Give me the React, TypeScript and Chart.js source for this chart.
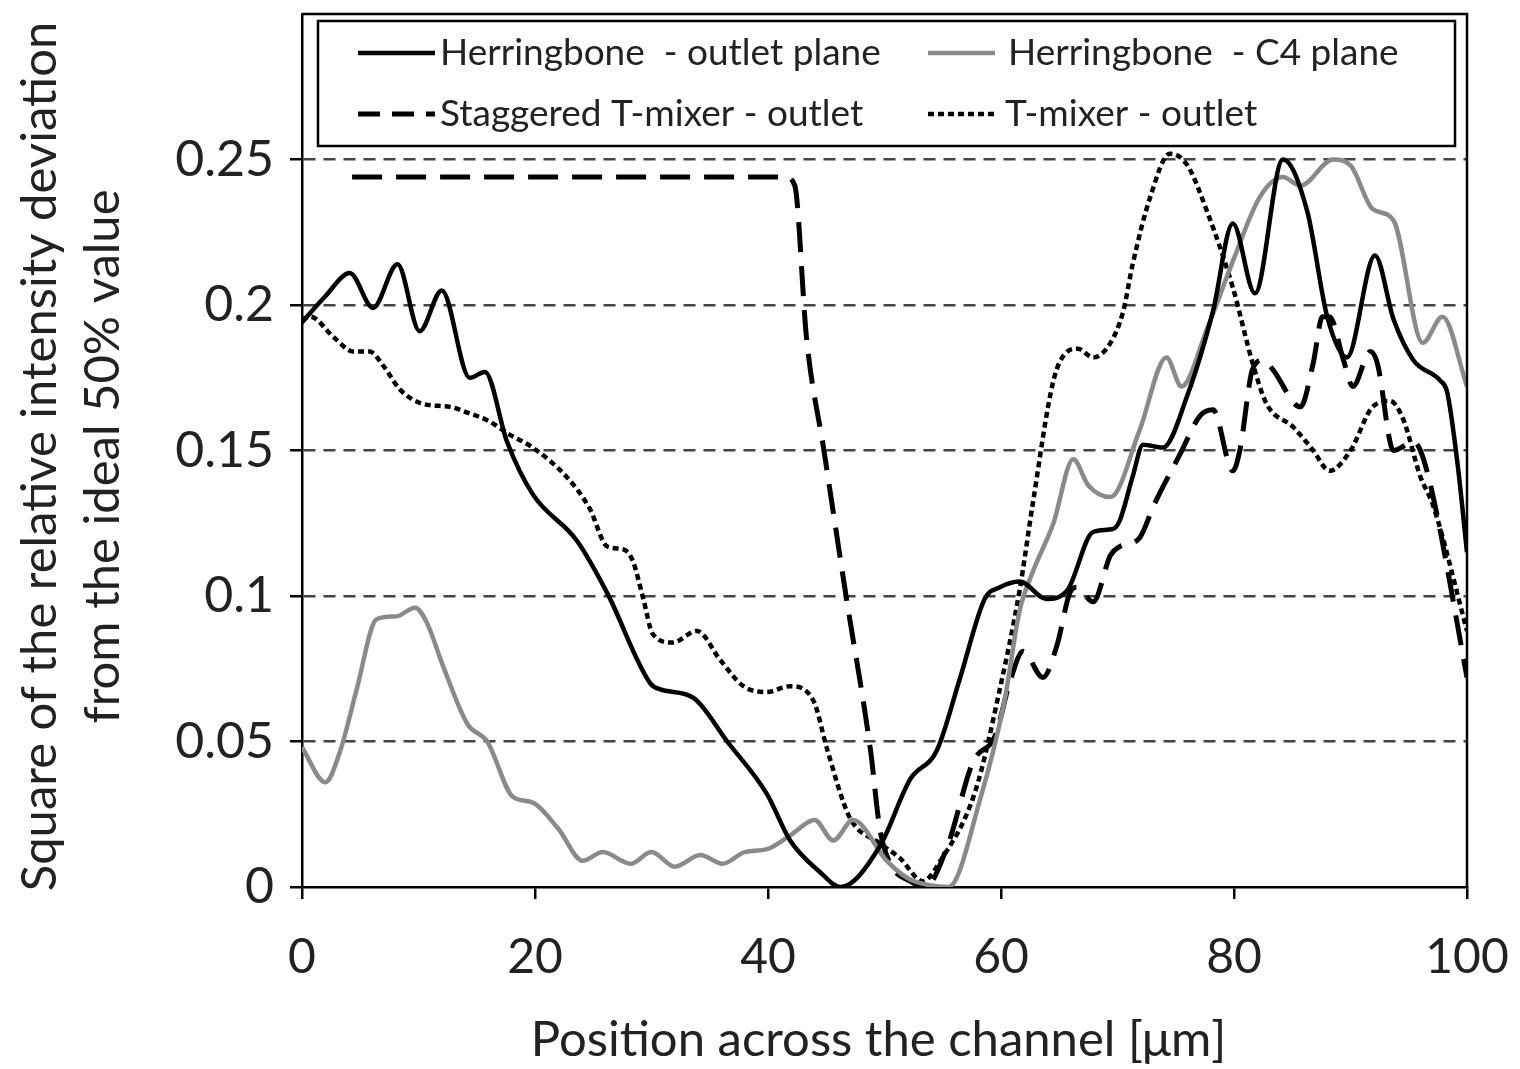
import React, { useEffect, useRef } from "react";
import { Chart, registerables } from "chart.js";

Chart.register(...registerables);

// ---------- data ----------
const xTickValues = [0, 20, 40, 60, 80, 100];
const yTickValues = [0, 0.05, 0.1, 0.15, 0.2, 0.25];
const yTickLabels = ["0", "0.05", "0.1", "0.15", "0.2", "0.25"];

const seriesNames = [
  "Herringbone  - outlet plane",
  "Herringbone  - C4 plane",
  "Staggered T-mixer - outlet",
  "T-mixer - outlet",
];

const hoX = [0, 2, 4.1, 6.1, 8.2, 10.1, 12.0, 14.4, 15.7, 17.6, 19.8, 23.6, 26.2, 29.9, 30.7, 33.6, 36.5, 39.9, 41.9, 44.5, 46.2, 49.6, 52.2, 54.5, 56.5, 58.6, 59.9, 61.6, 63.9, 65.7, 67.9, 69.6, 70.2, 71.3, 72.2, 73.9, 76, 78.2, 79.9, 81.8, 84.2, 86.3, 88.0, 89.7, 92.1, 93.7, 95.4, 97.7, 98.3, 99.2, 100];
const hoY = [0.194, 0.203, 0.211, 0.199, 0.214, 0.191, 0.205, 0.175, 0.177, 0.153, 0.135, 0.119, 0.101, 0.070, 0.068, 0.065, 0.050, 0.032, 0.016, 0.005, 0.0, 0.014, 0.037, 0.047, 0.072, 0.099, 0.103, 0.105, 0.099, 0.102, 0.122, 0.123, 0.126, 0.141, 0.152, 0.151, 0.169, 0.198, 0.228, 0.204, 0.250, 0.232, 0.196, 0.182, 0.217, 0.195, 0.181, 0.174, 0.170, 0.145, 0.115];

const c4X = [0, 2.0, 3.3, 4.7, 6.4, 8.1, 9.7, 10.7, 12.1, 14.2, 15.9, 18.1, 19.8, 22, 24.1, 25.8, 28.2, 30.0, 32.0, 34.2, 36.1, 38, 39.9, 42.0, 44.0, 45.6, 47.3, 50.2, 52, 54, 55.5, 58.2, 60.3, 61.6, 62.7, 64.5, 66.2, 67.5, 69.4, 71.9, 74.2, 75.5, 77.7, 79.9, 82.2, 84.2, 85.7, 88.5, 90, 91.9, 93.7, 96.2, 97.9, 100];
const c4Y = [0.048, 0.036, 0.047, 0.068, 0.092, 0.093, 0.096, 0.091, 0.076, 0.056, 0.050, 0.031, 0.029, 0.020, 0.009, 0.012, 0.008, 0.012, 0.007, 0.011, 0.008, 0.012, 0.013, 0.018, 0.023, 0.016, 0.023, 0.009, 0.003, 0.0005, 0.0, 0.030, 0.064, 0.095, 0.108, 0.125, 0.147, 0.138, 0.134, 0.157, 0.182, 0.172, 0.192, 0.215, 0.237, 0.244, 0.241, 0.250, 0.248, 0.233, 0.229, 0.187, 0.196, 0.172];

const stX = [4.3, 41.5, 42.3, 43.3, 44.8, 46.7, 48.8, 49.6, 50.5, 52.2, 53.5, 55.4, 57.6, 59.5, 60.8, 61.9, 63.6, 64.8, 65.9, 66.5, 67.9, 69.4, 70.2, 71.9, 73.1, 75.4, 77.1, 78.2, 79.9, 80.5, 81.6, 82.5, 83.3, 85.7, 86.8, 87.6, 88.2, 89.4, 90.2, 91.7, 92.3, 93.7, 95.4, 96, 97.1, 100];
const stY = [0.244, 0.244, 0.241, 0.189, 0.150, 0.100, 0.047, 0.020, 0.008, 0.002, 0.0, 0.014, 0.043, 0.052, 0.071, 0.081, 0.072, 0.083, 0.101, 0.103, 0.098, 0.114, 0.117, 0.120, 0.131, 0.149, 0.162, 0.164, 0.143, 0.150, 0.178, 0.181, 0.178, 0.165, 0.180, 0.196, 0.196, 0.181, 0.172, 0.184, 0.180, 0.150, 0.153, 0.150, 0.134, 0.072];

const tmX = [0, 0.7, 2.7, 4.4, 5.8, 7.0, 8.4, 10.4, 12.7, 14.2, 16.1, 17.6, 19.8, 22.7, 24.7, 26.2, 27.6, 28.4, 29.3, 30.1, 31.8, 33.9, 35.9, 37.9, 39.9, 41.9, 43.9, 45.1, 47, 49.6, 51.3, 53.3, 54.8, 57.8, 59.9, 61.6, 62.7, 64.5, 65.7, 66.6, 67.9, 69.4, 70.5, 71.3, 72.8, 74.5, 76, 77.7, 79.9, 81.6, 82.8, 85.1, 86.8, 88.2, 90, 91.9, 93.4, 94.5, 96, 97.1, 100];
const tmY = [0.195, 0.196, 0.189, 0.184, 0.184, 0.179, 0.171, 0.166, 0.165, 0.163, 0.160, 0.156, 0.151, 0.141, 0.130, 0.117, 0.116, 0.112, 0.099, 0.087, 0.084, 0.088, 0.078, 0.069, 0.067, 0.069, 0.064, 0.047, 0.024, 0.015, 0.010, 0.002, 0.009, 0.033, 0.068, 0.102, 0.131, 0.174, 0.184, 0.185, 0.182, 0.187, 0.198, 0.214, 0.237, 0.252, 0.248, 0.232, 0.206, 0.180, 0.166, 0.158, 0.150, 0.143, 0.150, 0.165, 0.167, 0.161, 0.141, 0.131, 0.088];

const xTitle = "Position across the channel [μm]";
const yTitleLines = ["Square of the relative intensity deviation", "from the ideal 50% value"];

// ---------- styles ----------
const FONT = "Lato, 'Open Sans', sans-serif";
const styles = [
  { color: "#000000", width: 4.5, dash: [] as number[] },
  { color: "#8a8a8a", width: 4.5, dash: [] as number[] },
  { color: "#000000", width: 5, dash: [30, 14] },
  { color: "#000000", width: 4.5, dash: [6, 4] },
];

const toPts = (xs: number[], ys: number[]) => xs.map((x, i) => ({ x, y: ys[i] }));

const framePlugin = {
  id: "frameAndLegend",
  afterDraw(chart: any) {
    const { ctx, chartArea } = chart;
    const { left, right, top, bottom } = chartArea;
    ctx.save();
    ctx.strokeStyle = "#000";
    ctx.lineWidth = 2.5;
    ctx.setLineDash([]);
    ctx.beginPath();
    ctx.moveTo(left, top);
    ctx.lineTo(right, top);
    ctx.lineTo(right, bottom);
    ctx.stroke();

    // legend box
    const lx = left + 16, ly = top + 7, lw = right - left - 28, lh = 125;
    ctx.fillStyle = "#fff";
    ctx.fillRect(lx, ly, lw, lh);
    ctx.lineWidth = 2.5;
    ctx.strokeRect(lx, ly, lw, lh);

    const rows = [ly + 32, ly + 93];
    const cols = [
      { s: 358, e: 435, t: 440 },
      { s: 928, e: 995, t: 1008 },
    ];
    ctx.font = `37px ${FONT}`;
    ctx.textBaseline = "middle";
    ctx.textAlign = "left";
    seriesNames.forEach((name, i) => {
      const r = rows[Math.floor(i / 2)];
      const c = cols[i % 2];
      const st = styles[i];
      ctx.strokeStyle = st.color;
      ctx.lineWidth = st.width;
      ctx.setLineDash(i === 2 ? [22, 12] : st.dash);
      ctx.beginPath();
      ctx.moveTo(c.s, r);
      ctx.lineTo(c.e, r);
      ctx.stroke();
      ctx.setLineDash([]);
      ctx.fillStyle = "#222";
      ctx.fillText(name, i === 3 ? c.t - 3 : c.t, r);
    });

    // axis titles
    ctx.fillStyle = "#222";
    ctx.font = `49px ${FONT}`;
    ctx.textAlign = "center";
    ctx.textBaseline = "middle";
    ctx.fillText(xTitle, (left + right) / 2 - 6, 1040);
    const cy = (top + bottom) / 2 + 6;
    ctx.save();
    ctx.translate(40, cy);
    ctx.rotate(-Math.PI / 2);
    ctx.fillText(yTitleLines[0], 0, 0);
    ctx.restore();
    ctx.save();
    ctx.translate(103, cy);
    ctx.rotate(-Math.PI / 2);
    ctx.fillText(yTitleLines[1], 0, 0);
    ctx.restore();
    ctx.restore();
  },
};

const near = (v: number, t: number) => Math.abs(v - t) < 1e-6;

export default function App() {
  const ref = useRef<HTMLCanvasElement | null>(null);
  useEffect(() => {
    document.body.style.margin = "0";
    const canvas = ref.current;
    if (!canvas) return;
    const data = [toPts(hoX, hoY), toPts(c4X, c4Y), toPts(stX, stY), toPts(tmX, tmY)];
    const chart = new Chart(canvas, {
      type: "line",
      data: {
        datasets: seriesNames.map((name, i) => ({
          label: name,
          data: data[i],
          borderColor: styles[i].color,
          borderWidth: styles[i].width,
          borderDash: styles[i].dash,
          pointRadius: 0,
          fill: false,
          cubicInterpolationMode: "monotone" as const,
        })),
      },
      options: {
        animation: false,
        responsive: false,
        layout: { padding: { left: 0, right: 53, top: 14, bottom: 0 } },
        plugins: { legend: { display: false }, tooltip: { enabled: false }, title: { display: false } },
        scales: {
          x: {
            type: "linear",
            min: 0,
            max: 100,
            afterBuildTicks: (s: any) => { s.ticks = xTickValues.map((v) => ({ value: v })); },
            afterFit: (s: any) => {
              s.height = 1069 - 887;
              s.paddingLeft = 0;
              s.paddingRight = 0;
            },
            ticks: { font: { size: 48, family: FONT }, color: "#222", padding: 30, maxRotation: 0 },
            grid: { drawOnChartArea: false, drawTicks: true, tickLength: 12, color: "#000", lineWidth: 2.5 },
            border: { display: true, color: "#000", width: 2.5 },
          },
          y: {
            type: "linear",
            min: 0,
            max: 0.3,
            afterBuildTicks: (s: any) => { s.ticks = [...yTickValues, 0.3].map((v) => ({ value: v })); },
            afterFit: (s: any) => {
              s.width = 302;
              s.paddingTop = 0;
              s.paddingBottom = 0;
            },
            ticks: {
              font: { size: 50, family: FONT },
              color: "#222",
              padding: 16,
              callback: (v: any) => {
                const i = yTickValues.findIndex((t) => near(Number(v), t));
                return i >= 0 ? yTickLabels[i] : "";
              },
            },
            grid: {
              drawTicks: true,
              tickLength: 12,
              color: (c: any) => (near(c.tick?.value, 0) || near(c.tick?.value, 0.3) ? "rgba(0,0,0,0)" : "#444"),
              tickColor: (c: any) => (near(c.tick?.value, 0.3) ? "rgba(0,0,0,0)" : "#000"),
              lineWidth: 2.5,
              tickBorderDash: [],
            },
            border: { display: true, color: "#000", width: 2.5, dash: [12, 8] },
          },
        },
      },
      plugins: [framePlugin],
    });
    return () => chart.destroy();
  }, []);
  return (
    <div style={{ width: 1520, height: 1069, background: "#fff" }}>
      <canvas ref={ref} width={1520} height={1069} style={{ display: "block" }} />
    </div>
  );
}
